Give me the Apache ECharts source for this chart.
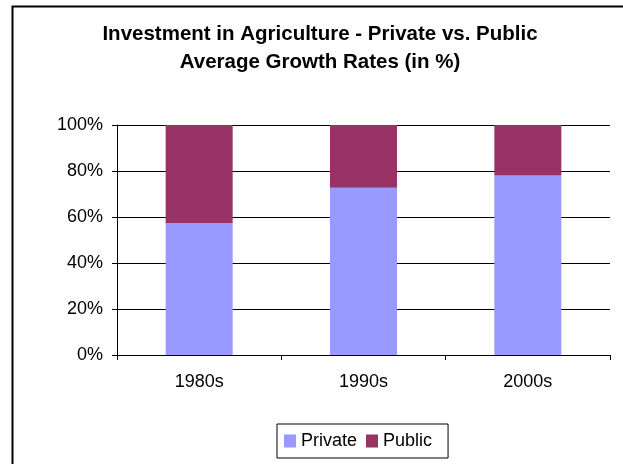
<!DOCTYPE html>
<html><head><meta charset="utf-8">
<script src="https://cdn.jsdelivr.net/npm/echarts@6/dist/echarts.min.js"></script>
<style>html,body{margin:0;padding:0;background:#fff}#c{width:623px;height:464px}</style>
</head><body><div id="c"></div>
<script>
const categories = ['1980s', '1990s', '2000s'];
const privateVals = [57.3, 72.7, 78.0];
const publicVals = [42.7, 27.3, 22.0];
const yTicks = [0, 20, 40, 60, 80, 100];
const titleLines = ['Investment in Agriculture - Private vs. Public', 'Average Growth Rates (in %)'];

const chart = echarts.init(document.getElementById('c'), null, {renderer: 'canvas'});
const font = 'Liberation Sans, Arial, sans-serif';
chart.setOption({
  animation: false,
  backgroundColor: '#fff',
  graphic: [{
    type: 'rect', shape: {x: 12.5, y: 6.5, width: 800, height: 600},
    style: {fill: null, stroke: '#000', lineWidth: 2}, silent: true, z: -1
  }, {
    type: 'text', x: 320, y: 20,
    style: {text: titleLines.join('\n'), font: 'bold 20.5px ' + font, fill: '#000',
      align: 'center', verticalAlign: 'top', lineHeight: 28}
  }],
  legend: {
    data: ['Private', 'Public'],
    bottom: 6, left: 277,
    icon: 'rect', itemWidth: 12, itemHeight: 13, itemGap: 9,
    borderColor: '#000', borderWidth: 1, borderRadius: 0,
    padding: [8, 16, 8, 7],
    textStyle: {fontFamily: font, fontSize: 18, color: '#000'}
  },
  grid: {left: 117, right: 13, top: 125, bottom: 109, containLabel: false},
  xAxis: {
    type: 'category', data: categories,
    axisLine: {lineStyle: {color: '#000', width: 1}},
    axisTick: {show: true, length: 5, lineStyle: {color: '#000'}},
    axisLabel: {fontFamily: font, fontSize: 18, color: '#000', margin: 18}
  },
  yAxis: {
    type: 'value', min: 0, max: 100, interval: 20,
    axisLine: {show: true, lineStyle: {color: '#000', width: 1}},
    axisTick: {show: true, length: 5, lineStyle: {color: '#000'}},
    splitLine: {show: true, lineStyle: {color: '#000', width: 1}},
    axisLabel: {fontFamily: font, fontSize: 18, color: '#000', margin: 14,
      formatter: v => yTicks.includes(v) ? v + '%' : ''}
  },
  series: [
    {name: 'Private', type: 'bar', stack: 's', data: privateVals, barWidth: 67,
     itemStyle: {color: '#9999ff'}},
    {name: 'Public', type: 'bar', stack: 's', data: publicVals, barWidth: 67,
     itemStyle: {color: '#993366'}}
  ]
});
</script></body></html>
